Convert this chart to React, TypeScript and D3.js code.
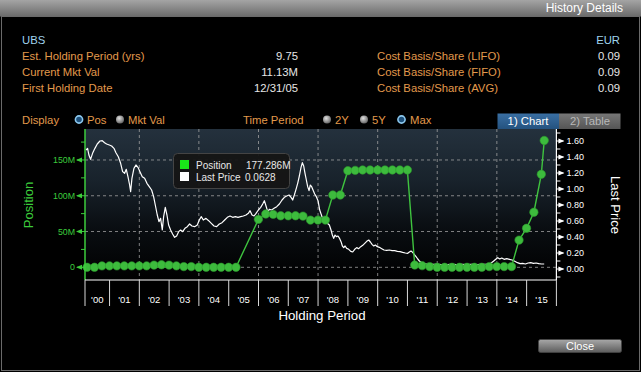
import React from 'react';
import * as d3 from 'd3';

const W = 641;
const H = 372;
const FONT = "'Liberation Sans', Arial, sans-serif";

const infoLeftLabels = ['Est. Holding Period (yrs)', 'Current Mkt Val', 'First Holding Date'];
const infoLeftValues = ['9.75', '11.13M', '12/31/05'];
const infoRightLabels = ['Cost Basis/Share (LIFO)', 'Cost Basis/Share (FIFO)', 'Cost Basis/Share (AVG)'];
const infoRightValues = ['0.09', '0.09', '0.09'];

// Position (millions) at quarter ends
const positionDates = [
  '2000-03-31', '2000-06-30', '2000-09-30', '2000-12-31',
  '2001-03-31', '2001-06-30', '2001-09-30', '2001-12-31',
  '2002-03-31', '2002-06-30', '2002-09-30', '2002-12-31',
  '2003-03-31', '2003-06-30', '2003-09-30', '2003-12-31',
  '2004-03-31', '2004-06-30', '2004-09-30', '2004-12-31',
  '2005-03-31', '2005-12-31',
  '2006-03-31', '2006-06-30', '2006-09-30', '2006-12-31',
  '2007-03-31', '2007-06-30', '2007-09-30', '2007-12-31',
  '2008-03-31', '2008-06-30', '2008-09-30', '2008-12-31',
  '2009-03-31', '2009-06-30', '2009-09-30', '2009-12-31',
  '2010-03-31', '2010-06-30', '2010-09-30', '2010-12-31',
  '2011-03-31', '2011-06-30', '2011-09-30', '2011-12-31',
  '2012-03-31', '2012-06-30', '2012-09-30', '2012-12-31',
  '2013-03-31', '2013-06-30', '2013-09-30', '2013-12-31',
  '2014-03-31', '2014-06-30', '2014-09-30', '2014-12-31',
  '2015-03-31', '2015-06-30', '2015-08-05',
];
const positionValues = [
  0, 0, 2, 2,
  2, 2, 2, 2,
  2, 3, 3.5, 3,
  2, 1, 1, 0,
  0, 0, 0, 0,
  0, 67,
  74.5, 74, 72, 72,
  72, 71.5, 66, 66,
  66, 101, 101, 135,
  135.5, 136, 136, 136,
  136, 136, 136, 136,
  3.2, 2.3, 1, 0,
  0, 0, 0, 0,
  0, 0, 1, 1,
  1, 1, 38, 54.5,
  77, 130, 177.286,
];

// Last Price, fractional years
const priceYears = [
  2000.208, 2000.264, 2000.308, 2000.364, 2000.431, 2000.51, 2000.588, 2000.678, 2000.756, 2000.834,
  2000.901, 2000.991, 2001.07, 2001.148, 2001.215, 2001.294, 2001.372, 2001.439, 2001.506, 2001.562,
  2001.618, 2001.674, 2001.708, 2001.752, 2001.819, 2001.886, 2001.954, 2002.021, 2002.099, 2002.178,
  2002.256, 2002.334, 2002.413, 2002.48, 2002.536, 2002.603, 2002.659, 2002.715, 2002.771, 2002.816,
  2002.872, 2002.928, 2002.984, 2003.051, 2003.118, 2003.185, 2003.253, 2003.32, 2003.387, 2003.454,
  2003.533, 2003.611, 2003.689, 2003.768, 2003.857, 2003.947, 2004.014, 2004.081, 2004.148, 2004.238,
  2004.328, 2004.417, 2004.507, 2004.595, 2004.685, 2004.775, 2004.864, 2004.954, 2005.043, 2005.133,
  2005.223, 2005.312, 2005.402, 2005.491, 2005.58, 2005.659, 2005.716, 2005.783, 2005.85, 2005.917,
  2005.996, 2006.074, 2006.141, 2006.197, 2006.253, 2006.309, 2006.365, 2006.444, 2006.522, 2006.612,
  2006.701, 2006.791, 2006.869, 2006.947, 2007.026, 2007.093, 2007.148, 2007.204, 2007.26, 2007.316,
  2007.372, 2007.428, 2007.473, 2007.518, 2007.562, 2007.607, 2007.652, 2007.697, 2007.741, 2007.786,
  2007.831, 2007.887, 2007.943, 2007.999, 2008.055, 2008.177, 2008.289, 2008.378, 2008.434, 2008.479,
  2008.524, 2008.569, 2008.613, 2008.669, 2008.725, 2008.77, 2008.815, 2008.86, 2008.905, 2008.96,
  2009.028, 2009.095, 2009.162, 2009.229, 2009.296, 2009.363, 2009.431, 2009.498, 2009.565, 2009.632,
  2009.699, 2009.755, 2009.811, 2009.867, 2009.923, 2009.99, 2010.057, 2010.136, 2010.214, 2010.304,
  2010.393, 2010.483, 2010.572, 2010.662, 2010.751, 2010.841, 2010.93, 2011.009, 2011.065, 2011.121,
  2011.177, 2011.233, 2011.289, 2011.345, 2011.401, 2011.479, 2011.557, 2011.647, 2011.815, 2011.983,
  2012.15, 2012.318, 2012.486, 2012.654, 2012.822, 2012.99, 2013.158, 2013.326, 2013.494, 2013.662,
  2013.796, 2013.885, 2013.964, 2014.031, 2014.098, 2014.165, 2014.244, 2014.333, 2014.423, 2014.512,
  2014.602, 2014.691, 2014.781, 2014.87, 2014.96, 2015.05, 2015.139, 2015.229, 2015.318, 2015.408,
  2015.497, 2015.59,
];
const priceValues = [
  1.4875, 1.508, 1.425, 1.371, 1.446, 1.508, 1.5625, 1.6, 1.604, 1.579,
  1.5625, 1.55, 1.5375, 1.508, 1.454, 1.404, 1.321, 1.217, 1.196, 1.246,
  1.154, 1.05, 0.967, 1.133, 1.258, 1.3, 1.271, 1.217, 1.154, 1.133,
  1.071, 1.029, 0.9875, 0.904, 0.8, 0.675, 0.592, 0.633, 0.4875, 0.654,
  0.771, 0.675, 0.55, 0.4875, 0.4375, 0.396, 0.4125, 0.467, 0.4875, 0.467,
  0.508, 0.529, 0.5625, 0.5375, 0.529, 0.55, 0.6125, 0.654, 0.6125, 0.633,
  0.604, 0.571, 0.5375, 0.529, 0.5625, 0.579, 0.6125, 0.646, 0.6625, 0.646,
  0.654, 0.646, 0.654, 0.6625, 0.675, 0.696, 0.729, 0.675, 0.6625, 0.696,
  0.7375, 0.771, 0.8125, 0.854, 0.7875, 0.717, 0.746, 0.7375, 0.758, 0.779,
  0.8125, 0.8625, 0.896, 0.9125, 0.925, 0.896, 0.8625, 0.925, 0.996, 1.071,
  1.1625, 1.271, 1.329, 1.2875, 1.196, 1.1125, 1.029, 0.979, 1.05, 1.029,
  0.9875, 0.9375, 0.904, 0.854, 0.7375, 0.604, 0.579, 0.55, 0.4875, 0.425,
  0.383, 0.425, 0.404, 0.4125, 0.379, 0.342, 0.2875, 0.267, 0.2875, 0.258,
  0.246, 0.221, 0.2125, 0.246, 0.267, 0.254, 0.279, 0.296, 0.321, 0.346,
  0.3625, 0.3375, 0.308, 0.2875, 0.3, 0.279, 0.271, 0.254, 0.2375, 0.233,
  0.2375, 0.229, 0.229, 0.221, 0.217, 0.208, 0.2, 0.196, 0.2125, 0.225,
  0.208, 0.179, 0.154, 0.125, 0.1, 0.079, 0.067, 0.0625, 0.058, 0.058,
  0.054, 0.054, 0.058, 0.054, 0.058, 0.054, 0.058, 0.054, 0.058, 0.0625,
  0.071, 0.096, 0.121, 0.142, 0.125, 0.1375, 0.121, 0.129, 0.121, 0.1125,
  0.096, 0.079, 0.067, 0.071, 0.0625, 0.075, 0.079, 0.071, 0.075, 0.067,
  0.0625, 0.0628,
];

const years = d3.range(2000, 2016);
const yearLabels = years.map((y) => `'${String(y % 100).padStart(2, '0')}`);
const leftTicks = [0, 50, 100, 150];
const leftTickLabels = ['0', '50M', '100M', '150M'];
const leftMinorTicks = [25, 75, 125, 175];
const rightTicks = [0, 0.2, 0.4, 0.6, 0.8, 1.0, 1.2, 1.4, 1.6];
const rightMinorTicks = [-0.1, 0.1, 0.3, 0.5, 0.7, 0.9, 1.1, 1.3, 1.5, 1.7];
const gridYears = [2002, 2004, 2006, 2008, 2010, 2012, 2014];

const fy = (y: number) => {
  const yr = Math.floor(y);
  const a = Date.UTC(yr, 0, 1);
  const b = Date.UTC(yr + 1, 0, 1);
  return new Date(a + (y - yr) * (b - a));
};
const parse = d3.utcParse('%Y-%m-%d');

const PL = 85, PR = 556.4, PT = 129, PB = 280;

export default function App() {
  const x = d3.scaleUtc()
    .domain([new Date(Date.UTC(2000, 2, 6)), new Date(Date.UTC(2016, 0, 1))])
    .range([PL, PR]);
  const yL = d3.scaleLinear().domain([-17.75, 193.3]).range([PB, PT]);
  const yR = d3.scaleLinear().domain([-0.1375, 1.75]).range([PB, PT]);

  const pos = positionDates.map((d, i) => ({ d: parse(d) as Date, v: positionValues[i] }));
  const price = priceYears.map((y, i) => ({ d: fy(y), v: priceValues[i] }));

  const posLine = d3.line<{ d: Date; v: number }>().x((p) => x(p.d)).y((p) => yL(p.v));
  const priceLine = d3.line<{ d: Date; v: number }>().x((p) => x(p.d)).y((p) => yR(p.v));

  const yearStart = (y: number) => Math.max(PL, x(new Date(Date.UTC(y, 0, 1))));
  const yearEnd = (y: number) => x(new Date(Date.UTC(y + 1, 0, 1)));
  const separators = [PL, ...years.map((y) => yearEnd(y))];

  const orange = '#e39a4c';
  const green = '#3ccc3c';
  const textW = '#e6e6e6';

  return (
    <svg width={W} height={H} style={{ position: 'absolute', left: 0, top: 0, background: '#000' }} fontFamily={FONT}>
      <defs>
        <linearGradient id="hdr" x1="0" y1="0" x2="0" y2="1">
          <stop offset="0" stopColor="#a4a4a4" />
          <stop offset="1" stopColor="#6c6c6c" />
        </linearGradient>
        <linearGradient id="plotbg" x1="0" y1="0" x2="0" y2="1">
          <stop offset="0" stopColor="#24313d" />
          <stop offset="0.35" stopColor="#18222b" />
          <stop offset="0.65" stopColor="#0a0e12" />
          <stop offset="1" stopColor="#000000" />
        </linearGradient>
        <linearGradient id="btn" x1="0" y1="0" x2="0" y2="1">
          <stop offset="0" stopColor="#a8a8a8" />
          <stop offset="1" stopColor="#5c5c5c" />
        </linearGradient>
        <linearGradient id="tabA" x1="0" y1="0" x2="0" y2="1">
          <stop offset="0" stopColor="#3a6fa3" />
          <stop offset="1" stopColor="#24527f" />
        </linearGradient>
        <linearGradient id="tabB" x1="0" y1="0" x2="0" y2="1">
          <stop offset="0" stopColor="#777" />
          <stop offset="1" stopColor="#555" />
        </linearGradient>
        <radialGradient id="radioOff" cx="0.4" cy="0.35" r="0.7">
          <stop offset="0" stopColor="#e0e0e0" />
          <stop offset="1" stopColor="#606060" />
        </radialGradient>
        <clipPath id="plotClip">
          <rect x={PL} y={PT} width={PR - PL} height={PB - PT} />
        </clipPath>
      </defs>

      {/* window */}
      <rect x={0} y={0} width={W} height={H} fill="#000" />
      <rect x={0} y={0} width={W} height={16} fill="url(#hdr)" />
      <line x1={0} y1={16.5} x2={W} y2={16.5} stroke="#3a3a3a" />
      <rect x={1.5} y={16.5} width={W - 3} height={H - 18} fill="none" stroke="#6a6a6a" />
      <text x={623} y={12} textAnchor="end" fill="#fff" fontSize={12}>History Details</text>

      {/* info */}
      <text x={22} y={44} fill="#9fd3ee" fontSize={11.3}>UBS</text>
      <text x={620} y={44} textAnchor="end" fill="#9fd3ee" fontSize={11.3}>EUR</text>
      {infoLeftLabels.map((t, i) => (
        <g key={t}>
          <text x={22} y={59.5 + i * 16} fill={orange} fontSize={11.3}>{t}</text>
          <text x={298} y={59.5 + i * 16} textAnchor="end" fill={textW} fontSize={11.3}>{infoLeftValues[i]}</text>
          <text x={377} y={59.5 + i * 16} fill={orange} fontSize={11.3}>{infoRightLabels[i]}</text>
          <text x={620} y={59.5 + i * 16} textAnchor="end" fill={textW} fontSize={11.3}>{infoRightValues[i]}</text>
        </g>
      ))}

      {/* controls row */}
      <text x={22} y={124} fill={orange} fontSize={11.3}>Display</text>
      <circle cx={79} cy={119.5} r={3.6} fill="#1d4f7a" stroke="#8cc8ee" strokeWidth={1.6} />
      <text x={87} y={124} fill={orange} fontSize={11.3}>Pos</text>
      <circle cx={120} cy={119.5} r={4} fill="url(#radioOff)" />
      <text x={128} y={124} fill={orange} fontSize={11.3}>Mkt Val</text>
      <text x={243} y={124} fill={orange} fontSize={11.3}>Time Period</text>
      <circle cx={327} cy={119.5} r={4} fill="url(#radioOff)" />
      <text x={335} y={124} fill={orange} fontSize={11.3}>2Y</text>
      <circle cx={364} cy={119.5} r={4} fill="url(#radioOff)" />
      <text x={372} y={124} fill={orange} fontSize={11.3}>5Y</text>
      <circle cx={401.5} cy={119.5} r={3.6} fill="#1d4f7a" stroke="#8cc8ee" strokeWidth={1.6} />
      <text x={410} y={124} fill={orange} fontSize={11.3}>Max</text>

      {/* tabs */}
      <rect x={497.5} y={113.5} width={61.5} height={15.5} fill="url(#tabA)" />
      <text x={528} y={125} textAnchor="middle" fill="#fff" fontSize={11.3}>1) Chart</text>
      <rect x={559} y={113.5} width={61.5} height={15.5} fill="url(#tabB)" />
      <text x={590} y={125} textAnchor="middle" fill="#b8b8b8" fontSize={11.3}>2) Table</text>

      {/* plot background */}
      <rect x={PL} y={PT} width={PR - PL} height={PB - PT} fill="url(#plotbg)" />

      {/* grid */}
      {leftTicks.map((t) => (
        <line key={`gh${t}`} x1={PL} x2={PR} y1={yL(t)} y2={yL(t)} stroke="#a0a0a0" strokeWidth={0.8} strokeDasharray="3,3" />
      ))}
      {gridYears.map((y) => {
        const gx = x(new Date(Date.UTC(y, 0, 1)));
        return <line key={`gv${y}`} x1={gx} x2={gx} y1={PT} y2={PB} stroke="#a0a0a0" strokeWidth={0.8} strokeDasharray="3,3" />;
      })}

      {/* series */}
      <g clipPath="url(#plotClip)">
        <path d={priceLine(price) || ''} fill="none" stroke="#fff" strokeWidth={1.2} strokeLinejoin="round" />
      </g>
      <path d={posLine(pos) || ''} fill="none" stroke="#3fc43f" strokeWidth={1.4} />
      {pos.map((p, i) => (
        <circle key={`pd${i}`} cx={x(p.d)} cy={yL(p.v)} r={4.2} fill="#3dbb3d" stroke="#2c9a2c" strokeWidth={0.6} />
      ))}

      {/* left axis */}
      <line x1={PL} x2={PL} y1={PT} y2={PB} stroke={green} strokeWidth={1.5} />
      {leftTicks.map((t, i) => (
        <g key={`lt${t}`}>
          <line x1={PL - 8} x2={PL} y1={yL(t)} y2={yL(t)} stroke={green} strokeWidth={1} />
          <path d={`M${PL - 9},${yL(t)} L${PL - 3},${yL(t) - 2.5} L${PL - 3},${yL(t) + 2.5} Z`} fill={green} />
          <text x={PL - 10} y={yL(t) + 3} textAnchor="end" fill={green} fontSize={8.8}>{leftTickLabels[i]}</text>
        </g>
      ))}
      {leftMinorTicks.map((t) => (
        <line key={`lm${t}`} x1={PL - 4} x2={PL} y1={yL(t)} y2={yL(t)} stroke={green} strokeWidth={1} />
      ))}
      <text transform={`translate(33,205) rotate(-90)`} textAnchor="middle" fill={green} fontSize={13}>Position</text>

      {/* right axis */}
      <line x1={PR} x2={PR} y1={PT} y2={PB} stroke="#fff" strokeWidth={1.2} />
      {rightTicks.map((t) => (
        <g key={`rt${t}`}>
          <line x1={PR} x2={PR + 7} y1={yR(t)} y2={yR(t)} stroke="#fff" strokeWidth={1} />
          <path d={`M${PR + 8},${yR(t)} L${PR + 2},${yR(t) - 2.5} L${PR + 2},${yR(t) + 2.5} Z`} fill="#fff" />
          <text x={PR + 10} y={yR(t) + 3} fill="#fff" fontSize={9}>{t.toFixed(2)}</text>
        </g>
      ))}
      {rightMinorTicks.map((t) => (
        <line key={`rm${t}`} x1={PR} x2={PR + 4} y1={yR(t)} y2={yR(t)} stroke="#fff" strokeWidth={1} />
      ))}
      <text transform={`translate(611,205) rotate(90)`} textAnchor="middle" fill="#fff" fontSize={13}>Last Price</text>

      {/* bottom axis */}
      <line x1={PL} x2={PR} y1={PB} y2={PB} stroke="#fff" strokeWidth={1.2} />
      {separators.map((sx, i) => (
        <line key={`sep${i}`} x1={sx} x2={sx} y1={PB} y2={PB + 26} stroke="#d8d8d8" strokeWidth={1} />
      ))}
      {years.map((y, i) => (
        <text key={`yl${y}`} x={(yearStart(y) + yearEnd(y)) / 2} y={303} textAnchor="middle" fill="#fff" fontSize={9.5}>{yearLabels[i]}</text>
      ))}
      <text x={322} y={319.5} textAnchor="middle" fill="#fff" fontSize={13.3}>Holding Period</text>

      {/* legend box */}
      <rect x={173.5} y={153.5} width={116} height={35} rx={4} fill="#151515" fillOpacity={0.95} stroke="#444" />
      <rect x={180} y={160} width={9} height={9} fill="#19e619" />
      <text x={196} y={168.5} fill="#e8e8e8" fontSize={10}>Position</text>
      <text x={246} y={168.5} fill="#e8e8e8" fontSize={10}>177.286M</text>
      <rect x={180} y={172} width={9} height={9} fill="#fff" />
      <text x={196} y={180.5} fill="#e8e8e8" fontSize={10}>Last Price</text>
      <text x={245} y={180.5} fill="#e8e8e8" fontSize={10}>0.0628</text>

      {/* close button */}
      <rect x={538.5} y={339.5} width={83} height={13} rx={2} fill="url(#btn)" stroke="#444" strokeWidth={0.8} />
      <text x={580} y={350} textAnchor="middle" fill="#fff" fontSize={11}>Close</text>
    </svg>
  );
}
